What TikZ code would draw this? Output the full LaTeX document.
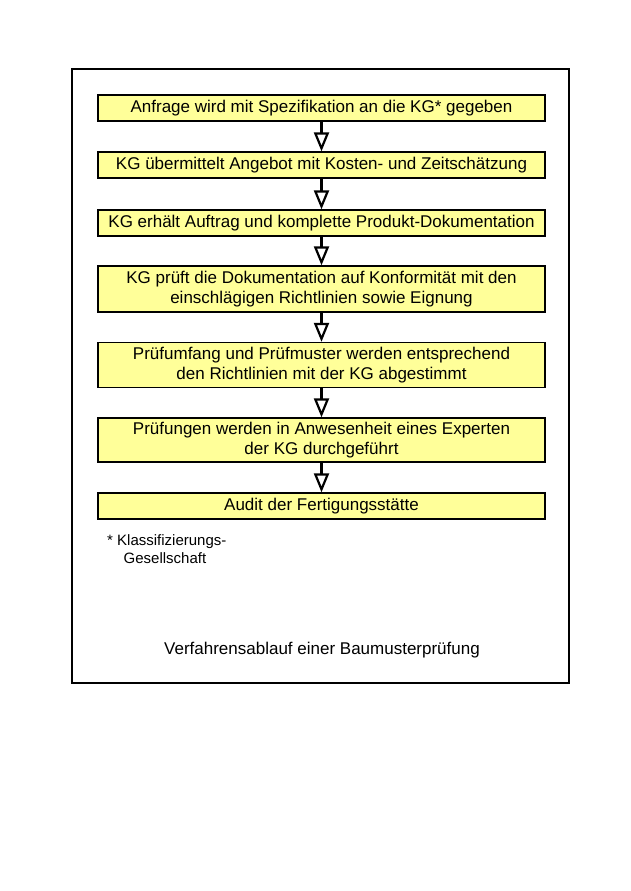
\documentclass[tikz,border=0pt]{standalone}
\usepackage{fontspec}
\setmainfont{Liberation Sans}
\usetikzlibrary{arrows.meta}
\definecolor{boxyellow}{HTML}{FFFF99}

\begin{document}
\begin{tikzpicture}[x=1pt,y=-1pt,
    stepbox/.style={draw,line width=1.3pt,fill=boxyellow,minimum width=447pt,inner sep=0pt,align=center,font=\fontsize{17}{20}\selectfont},
    flow/.style={line width=2.4pt,-{Triangle[open,width=15pt,length=19pt,line width=2.2pt]}}]
\useasboundingbox (0,0) rectangle (630,891);
\draw[line width=1.2pt] (72,69) rectangle (569,683); %frame
\node[stepbox,minimum height=26pt] (anfrage) at (321.5,108) {Anfrage wird mit Spezifikation an die KG* gegeben};
\node[stepbox,minimum height=26pt] (angebot) at (321.5,165) {KG übermittelt Angebot mit Kosten- und Zeitschätzung};
\node[stepbox,minimum height=26pt] (auftrag) at (321.5,223) {KG erhält Auftrag und komplette Produkt-Dokumentation};
\node[stepbox,minimum height=46pt] (pruefdoku) at (321.5,289) {KG prüft die Dokumentation auf Konformität mit den\\einschlägigen Richtlinien sowie Eignung};
\node[stepbox,minimum height=45pt] (umfang) at (321.5,365) {Prüfumfang und Prüfmuster werden entsprechend\\den Richtlinien mit der KG abgestimmt};
\node[stepbox,minimum height=44pt] (experte) at (321.5,440) {Prüfungen werden in Anwesenheit eines Experten\\der KG durchgeführt};
\node[stepbox,minimum height=26pt] (audit) at (321.5,506) {Audit der Fertigungsstätte};
\draw[flow] (anfrage) -- (angebot);
\draw[flow] (angebot) -- (auftrag);
\draw[flow] (auftrag) -- (pruefdoku);
\draw[flow] (pruefdoku) -- (umfang);
\draw[flow] (umfang) -- (experte);
\draw[flow] (experte) -- (audit);
\node[anchor=north west,align=left,inner sep=0pt,font=\fontsize{15}{18}\selectfont] (fussnote) at (107,534) {* Klassifizierungs-\\\hspace*{1.1em}Gesellschaft}; % footnote
\node[font=\fontsize{17}{20}\selectfont] (titel) at (322,650) {Verfahrensablauf einer Baumusterprüfung};
\end{tikzpicture}
\end{document}
